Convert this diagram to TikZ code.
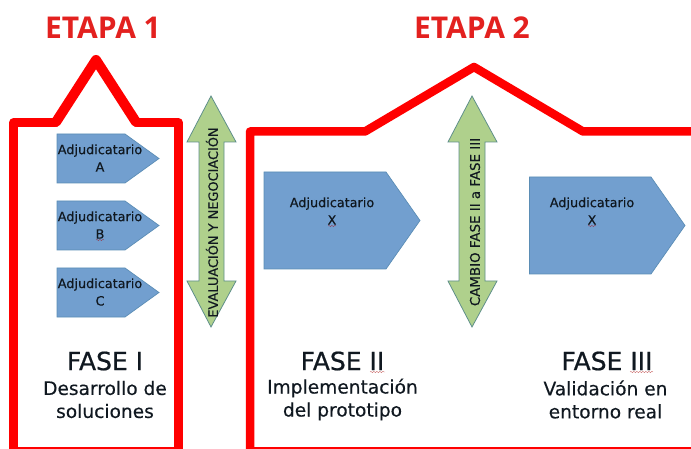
\documentclass[tikz,border=0pt]{standalone}
\usepackage{fontspec}
\setmainfont{DejaVu Sans}[FakeBold=0.35]
\newfontfamily\titlefam{Open Sans}
\newfontfamily\fasefam{DejaVu Sans}[FakeBold=0.7]
\usetikzlibrary{decorations.pathmorphing}
\definecolor{framered}{HTML}{FF0000}
\definecolor{titlered}{HTML}{E3211F}
\definecolor{bluefill}{HTML}{729FCF}
\definecolor{blueedge}{HTML}{5B8DB5}
\definecolor{greenfill}{HTML}{AFD08C}
\definecolor{greenedge}{HTML}{5F8F8A}
\definecolor{inktext}{HTML}{101820}
\tikzset{
  frameline/.style={draw=framered,line width=8.5pt,line join=round,line cap=round},
  roofline/.style={frameline,line width=10pt},
  pent/.style={draw=blueedge,fill=bluefill,line width=0.7pt},
  dblarrow/.style={draw=greenedge,fill=greenfill,line width=0.8pt,line join=miter},
  titletext/.style={text=titlered,font=\titlefam\fontsize{30}{30}\selectfont\bfseries,inner sep=0pt},
  adjtext/.style={text=inktext,font=\fontsize{12.8}{17.5}\selectfont,align=center,inner sep=0pt},
  sidetext/.style={text=inktext,font=\fontsize{12.9}{14}\selectfont,inner sep=0pt,rotate=90},
  sidetextb/.style={sidetext,font=\fontsize{13.4}{14}\selectfont},
  fasetext/.style={text=inktext,font=\fasefam\fontsize{25}{25}\selectfont,inner sep=0pt},
  subtext/.style={text=inktext,font=\fontsize{18.6}{23}\selectfont,align=center,inner sep=0pt},
  squig/.style={draw=red!65!black,opacity=.55,line width=0.4pt,decorate,decoration={snake,amplitude=0.7pt,segment length=3pt}}
}
\begin{document}
\begin{tikzpicture}[x=1pt,y=-1pt]
\useasboundingbox (0,0) rectangle (691,449);
\clip (0,0) rectangle (691,449);
% frames
\draw[frameline] (13.5,455) -- (13.5,122.5) -- (55,122.5);
\draw[frameline] (137,122.5) -- (178.5,122.5) -- (178.5,455);
\draw[roofline] (56,122) -- (96,60) -- (136,122);
\draw[frameline] (13.5,451.5) -- (178.5,451.5);
\draw[frameline] (250,455) -- (250,131.5) -- (365,131.5) -- (474,67) -- (583,131.5) -- (700,131.5);
\draw[frameline] (250,451.5) -- (700,451.5);
% titles
\node[titletext] (t1) at (103,28) {ETAPA 1};
\node[titletext] (t2) at (472,28) {ETAPA 2};
% pentagons
\draw[pent] (57,134) -- (125,134) -- (159,158.5) -- (125,183) -- (57,183) -- cycle;
\draw[pent] (57,201) -- (125,201) -- (159,225.5) -- (125,250) -- (57,250) -- cycle;
\draw[pent] (57,268) -- (125,268) -- (159,292.5) -- (125,317) -- (57,317) -- cycle;
\draw[pent] (264,172) -- (386,172) -- (420,220.5) -- (386,269) -- (264,269) -- cycle;
\draw[pent] (529.5,177) -- (651,177) -- (685,225.5) -- (651,274) -- (529.5,274) -- cycle;
\node[adjtext] (a) at (100,158) {Adjudicatario\\A};
\node[adjtext] (b) at (100,225) {Adjudicatario\\B};
\node[adjtext] (c) at (100,292) {Adjudicatario\\C};
\node[adjtext] (x1) at (332,211) {Adjudicatario\\X};
\node[adjtext] (x2) at (592,211) {Adjudicatario\\X};
% double arrows
\draw[dblarrow] (211,96) -- (236,142) -- (224,142) -- (224,281) -- (236,281) -- (211,327) -- (187,281) -- (199,281) -- (199,142) -- (187,142) -- cycle;
\draw[dblarrow] (472,96) -- (497,142) -- (485,142) -- (485,281) -- (497,281) -- (472,327) -- (448,281) -- (459,281) -- (459,142) -- (448,142) -- cycle;
\node[sidetext] (ev) at (212,222.5) {EVALUACIÓN Y NEGOCIACIÓN};
\node[sidetextb] (ca) at (475,222) {CAMBIO FASE II a FASE III};
% phase labels
\node[fasetext] (f1) at (105,361) {FASE I};
\node[fasetext] (f2) at (342.5,361) {FASE II};
\node[fasetext] (f3) at (607,361) {FASE III};
\node[subtext] (s1) at (105,399.5) {Desarrollo de\\soluciones};
\node[subtext] (s2) at (342.5,399.5) {Implementación\\del prototipo};
\node[subtext] (s3) at (605.5,399.5) {Validación en\\entorno real};
% spell-check marks
\draw[squig] (96,240) -- (104,240);
\draw[squig] (328,226) -- (336,226);
\draw[squig] (588,226) -- (596,226);
\draw[squig] (370,372) -- (385,372);
\draw[squig] (630,372) -- (653,372);
\end{tikzpicture}
\end{document}
